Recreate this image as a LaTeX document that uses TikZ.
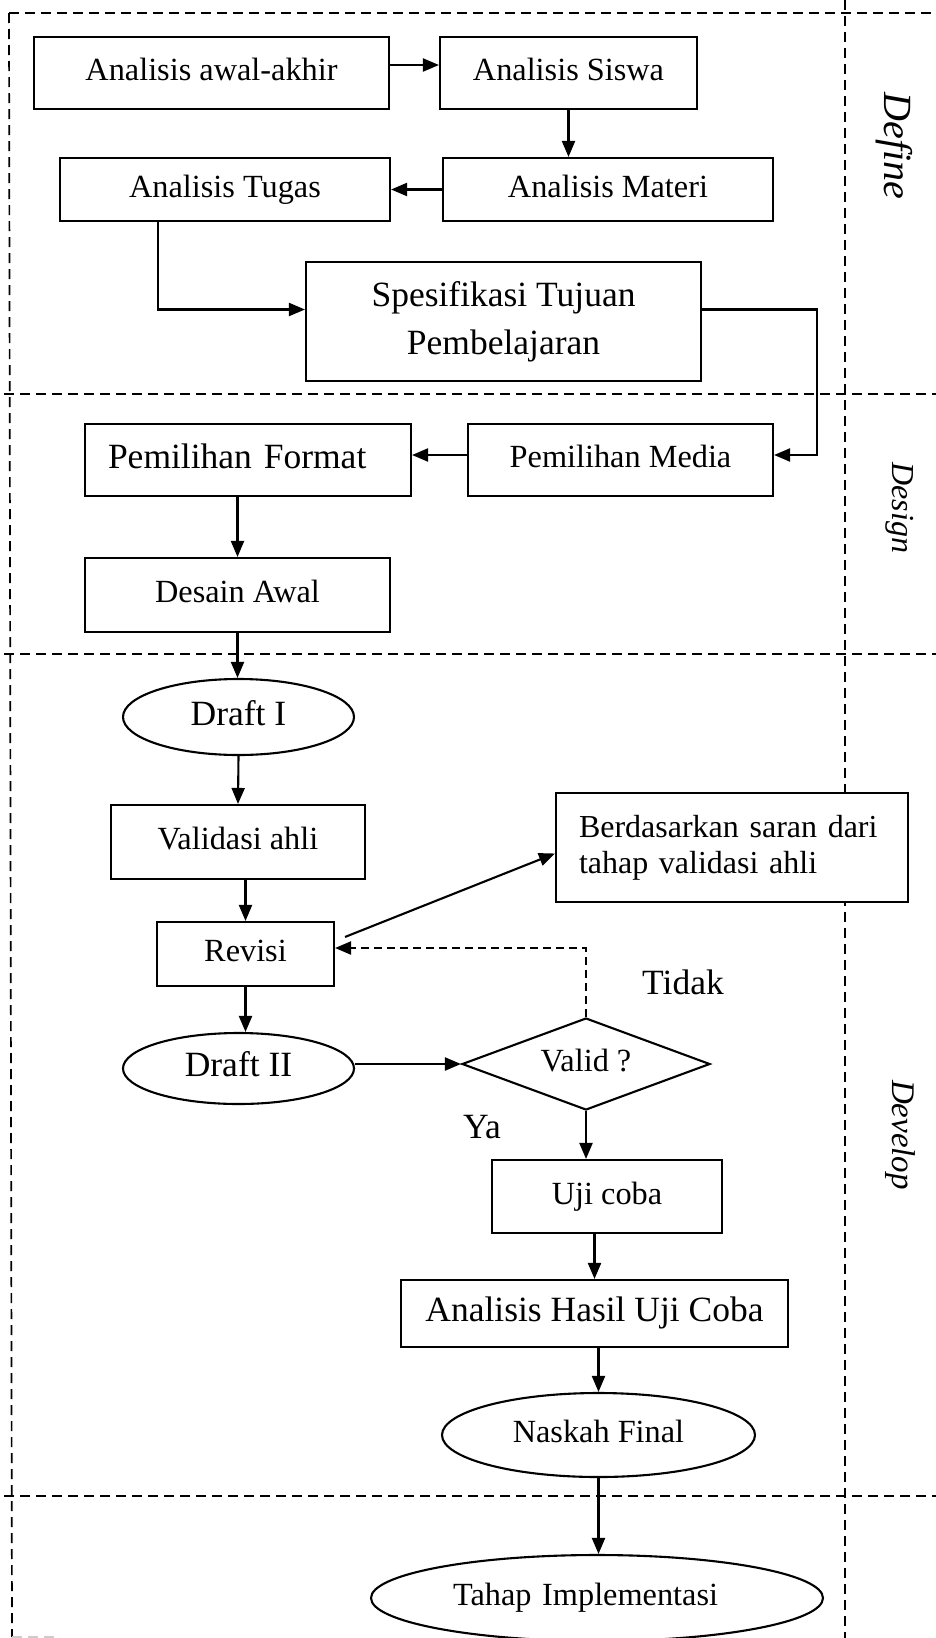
\documentclass[tikz,border=0pt]{standalone}
\usepackage{fontspec}
\setmainfont{Liberation Serif}
\usetikzlibrary{shapes.geometric,arrows.meta,calc}
\newcommand\fsn{\fontsize{32.3pt}{38pt}\selectfont}
\newcommand\fsl{\fontsize{35.5pt}{48pt}\selectfont}
\begin{document}
\begin{tikzpicture}[x=1pt,y=-1pt,
  frame/.style={line width=1.7pt, dash pattern=on 10pt off 6pt},
  boxm/.style={draw, line width=2.1pt, fill=white, rectangle, inner sep=0pt, font=\fsn},
  nt/.style={text height=22pt, text depth=7pt},
  lt/.style={font=\fsl, text height=24pt, text depth=7.5pt},
  box/.style={boxm, nt},
  oval/.style={draw, line width=2.1pt, fill=white, ellipse, inner sep=0pt, lt},
  arr/.style={line width=2.1pt, -{Triangle[length=16pt,width=13pt]}},
  phase/.style={font=\itshape, rotate=-90}
]
\useasboundingbox (0,0) rectangle (936,1638);
% frame
\draw[frame] (9,13) -- (936,13);
\draw[frame] (9,13) -- (12,1637);
\draw[frame] (845,0) -- (845,1638);
\draw[frame] (4,394) -- (936,394);
\draw[frame] (4,654) -- (936,654);
\draw[frame] (4,1496) -- (936,1496);
\draw[line width=1.6pt, dash pattern=on 10pt off 6pt, black!20] (12,1637) -- (60,1637);
% phase labels
\node[phase, font=\fontsize{40pt}{44pt}\selectfont\itshape] (ldefine) at (894,146) {Define};
\node[phase, font=\fontsize{32pt}{36pt}\selectfont\itshape] (ldesign) at (900,508) {Design};
\node[phase, font=\fontsize{33pt}{36pt}\selectfont\itshape] (ldevelop) at (900,1135) {Develop};
% Define
\node[box, minimum width=355pt, minimum height=72pt] (awal) at (211.5,73) {Analisis awal-akhir};
\node[box, minimum width=257pt, minimum height=72pt] (siswa) at (568.5,73) {Analisis Siswa};
\node[box, minimum width=330pt, minimum height=63pt] (materi) at (608,189.5) {Analisis Materi};
\node[box, minimum width=330pt, minimum height=63pt] (tugas) at (225,189.5) {Analisis Tugas};
\node[boxm, font=\fsl, align=center, minimum width=395pt, minimum height=119pt] (spes) at (503.5,321.5) {Spesifikasi Tujuan\\Pembelajaran};
% Design
\node[box, minimum width=305pt, minimum height=72pt] (media) at (620.5,460) {Pemilihan Media};
\node[box, lt, text width=280pt, inner xsep=23pt, align=left, minimum height=72pt] (format) at (248,460) {Pemilihan Format};
\node[box, minimum width=305pt, minimum height=74pt] (desain) at (237.5,595) {Desain Awal};
% Develop
\node[oval, minimum width=231pt, minimum height=76pt] (draft1) at (238.5,717) {Draft I};
\node[box, minimum width=254pt, minimum height=74pt] (validasi) at (238,842) {Validasi ahli};
\node[box, minimum width=177pt, minimum height=64pt] (revisi) at (245.5,954) {Revisi};
\node[boxm, font=\fontsize{32pt}{36pt}\selectfont, text width=306pt, inner xsep=23pt, align=left, minimum height=109pt] (berd) at (732,847.5) {Berdasarkan saran dari\\tahap validasi ahli};
\node[oval, minimum width=231pt, minimum height=71pt] (draft2) at (238.5,1068.5) {Draft II};
\node[draw, line width=2.1pt, fill=white, diamond, aspect=2.7, inner sep=0pt, minimum width=248pt, minimum height=92pt, font=\fsn, nt] (valid) at (586,1064) {Valid ?};
\node[box, minimum width=230pt, minimum height=73pt] (uji) at (607,1196.5) {Uji coba};
\node[box, lt, minimum width=387pt, minimum height=67pt] (hasil) at (594.5,1313.5) {Analisis Hasil Uji Coba};
\node[oval, font=\fsn, nt, minimum width=313pt, minimum height=84pt] (naskah) at (598.5,1435) {Naskah Final};
\node[oval, font=\fsn, nt, text width=288pt, align=left, minimum width=452pt, minimum height=86pt] (tahap) at (597,1598) {Tahap Implementasi};
\node[font=\fsl] (tidak) at (683,982) {Tidak};
\node[font=\fsl] (ya) at (482,1127) {Ya};
% connectors
\draw[arr] ($(awal.east)+(0,-8)$) -- ($(siswa.west)+(0,-8)$);
\draw[arr] (siswa.south) -- (siswa.south |- materi.north);
\draw[arr] (materi.west) -- (tugas.east);
\draw[arr] ($(tugas.south west)+(99,0)$) |- ($(spes.west)+(0,-12)$);
\draw[arr] ($(spes.east)+(0,-12)$) -- ++(115,0) |- ($(media.east)+(0,-5)$);
\draw[arr] ($(media.west)+(0,-5)$) -- ($(format.east)+(0,-5)$);
\draw[arr] (desain.north |- format.south) -- (desain.north);
\draw[arr] (desain.south) -- (desain.south |- draft1.north);
\draw[arr] (draft1.south) -- (validasi.north);
\draw[arr] (validasi.south -| revisi.north) -- (revisi.north);
\draw[arr] (revisi.south) -- (revisi.south |- draft2.north);
\draw[arr] ($(revisi.north east)+(10,16)$) -- ($(berd.west)+(0,6)$);
\draw[arr, dash pattern=on 8pt off 5pt] (valid.north) |- ($(revisi.east)+(0,-6)$);
\draw[arr] (draft2.east |- valid.west) -- (valid.west);
\draw[arr] (valid.south) -- (valid.south |- uji.north);
\draw[arr] (hasil.north |- uji.south) -- (hasil.north);
\draw[arr] (naskah.north |- hasil.south) -- (naskah.north);
\draw[arr] (naskah.south) -- (naskah.south |- tahap.north);
\end{tikzpicture}
\end{document}
